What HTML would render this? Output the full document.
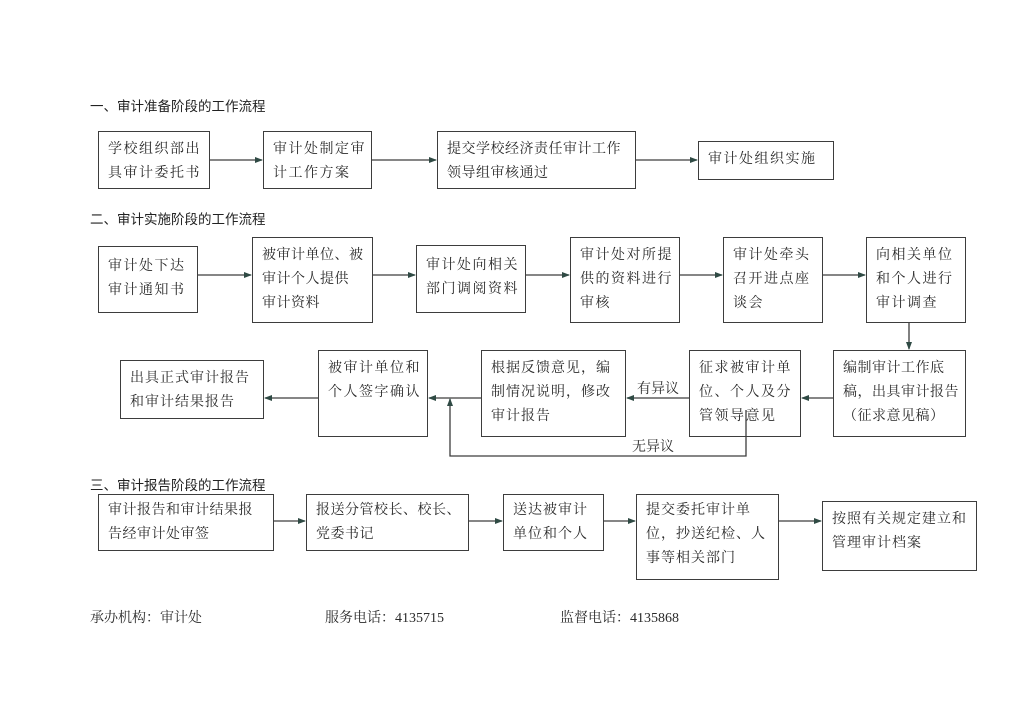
<!DOCTYPE html>
<html><head><meta charset="utf-8"><style>
body{margin:0;width:1024px;height:723px;background:#fff;position:relative;overflow:hidden;font-family:"Liberation Serif","Noto Serif CJK SC",serif;color:#2a2a2a}
.b{position:absolute;border:1.5px solid #3d3d3d;box-sizing:border-box;font-size:14px;line-height:24px;padding:5px 0 0 9px;letter-spacing:1.5px;white-space:nowrap;overflow:hidden}
.h{position:absolute;font-family:"Liberation Sans","Noto Sans CJK SC",sans-serif;font-size:13.5px;color:#222}
.t{position:absolute;font-size:14px;white-space:nowrap}
svg{position:absolute;left:0;top:0}
</style></head><body>
<div class="h" style="left:90px;top:95px">一、审计准备阶段的工作流程</div>
<div class="h" style="left:90px;top:208px">二、审计实施阶段的工作流程</div>
<div class="h" style="left:90px;top:474px">三、审计报告阶段的工作流程</div>

<div class="b" style="left:98px;top:131px;width:112px;height:58px;padding-top:6px">学校组织部出<br>具审计委托书</div>
<div class="b" style="left:263px;top:131px;width:109px;height:58px;padding-top:6px">审计处制定审<br>计工作方案</div>
<div class="b" style="left:437px;top:131px;width:199px;height:58px;padding-top:6px;letter-spacing:0.5px">提交学校经济责任审计工作<br>领导组审核通过</div>
<div class="b" style="left:698px;top:141px;width:136px;height:39px;padding-top:6px">审计处组织实施</div>

<div class="b" style="left:98px;top:246px;width:100px;height:67px;padding-top:8px">审计处下达<br>审计通知书</div>
<div class="b" style="left:252px;top:237px;width:121px;height:86px;padding-top:6px;letter-spacing:0.5px">被审计单位、被<br>审计个人提供<br>审计资料</div>
<div class="b" style="left:416px;top:245px;width:110px;height:68px;padding-top:8px">审计处向相关<br>部门调阅资料</div>
<div class="b" style="left:570px;top:237px;width:110px;height:86px;padding-top:6px">审计处对所提<br>供的资料进行<br>审核</div>
<div class="b" style="left:723px;top:237px;width:100px;height:86px;padding-top:6px">审计处牵头<br>召开进点座<br>谈会</div>
<div class="b" style="left:866px;top:237px;width:100px;height:86px;padding-top:6px">向相关单位<br>和个人进行<br>审计调查</div>

<div class="b" style="left:120px;top:360px;width:144px;height:59px;padding-top:6px;letter-spacing:1px">出具正式审计报告<br>和审计结果报告</div>
<div class="b" style="left:318px;top:350px;width:110px;height:87px;padding-top:6px">被审计单位和<br>个人签字确认</div>
<div class="b" style="left:481px;top:350px;width:145px;height:87px;padding-top:6px;letter-spacing:1px">根据反馈意见，编<br>制情况说明，修改<br>审计报告</div>
<div class="b" style="left:689px;top:350px;width:112px;height:87px;padding-top:6px">征求被审计单<br>位、个人及分<br>管领导意见</div>
<div class="b" style="left:833px;top:350px;width:133px;height:87px;padding-top:6px;letter-spacing:0.5px">编制审计工作底<br>稿，出具审计报告<br>（征求意见稿）</div>

<div class="b" style="left:98px;top:494px;width:176px;height:57px;padding-top:4px;letter-spacing:0.5px">审计报告和审计结果报<br>告经审计处审签</div>
<div class="b" style="left:306px;top:494px;width:163px;height:57px;padding-top:4px;letter-spacing:0.5px">报送分管校长、校长、<br>党委书记</div>
<div class="b" style="left:503px;top:494px;width:101px;height:57px;padding-top:4px;letter-spacing:1px">送达被审计<br>单位和个人</div>
<div class="b" style="left:636px;top:494px;width:143px;height:86px;padding-top:4px;letter-spacing:1px">提交委托审计单<br>位，抄送纪检、人<br>事等相关部门</div>
<div class="b" style="left:822px;top:501px;width:155px;height:70px;padding-top:6px;letter-spacing:1px">按照有关规定建立和<br>管理审计档案</div>

<div class="t" style="left:637px;top:378px">有异议</div>
<div class="t" style="left:632px;top:436px">无异议</div>

<div class="t" style="left:90px;top:607px">承办机构：审计处</div>
<div class="t" style="left:325px;top:607px">服务电话：4135715</div>
<div class="t" style="left:560px;top:607px">监督电话：4135868</div>

<svg width="1024" height="723">
<defs><marker id="a" markerWidth="8" markerHeight="8" refX="7" refY="4" orient="auto" markerUnits="userSpaceOnUse"><path d="M0,1 L8,4 L0,7 Z" fill="#2f4a44"/></marker></defs>
<g stroke="#3d3d3d" stroke-width="1.3" fill="none" marker-end="url(#a)">
<line x1="210" y1="160" x2="262" y2="160"/>
<line x1="372" y1="160" x2="436" y2="160"/>
<line x1="636" y1="160" x2="697" y2="160"/>
<line x1="198" y1="275" x2="251" y2="275"/>
<line x1="373" y1="275" x2="415" y2="275"/>
<line x1="526" y1="275" x2="569" y2="275"/>
<line x1="680" y1="275" x2="722" y2="275"/>
<line x1="823" y1="275" x2="865" y2="275"/>
<line x1="909" y1="323" x2="909" y2="349"/>
<line x1="833" y1="398" x2="802" y2="398"/>
<line x1="689" y1="398" x2="627" y2="398"/>
<line x1="481" y1="398" x2="429" y2="398"/>
<line x1="318" y1="398" x2="265" y2="398"/>
<polyline points="746,410 746,456 450,456 450,399"/>
<line x1="274" y1="521" x2="305" y2="521"/>
<line x1="469" y1="521" x2="502" y2="521"/>
<line x1="604" y1="521" x2="635" y2="521"/>
<line x1="779" y1="521" x2="821" y2="521"/>
</g>
</svg>
</body></html>
